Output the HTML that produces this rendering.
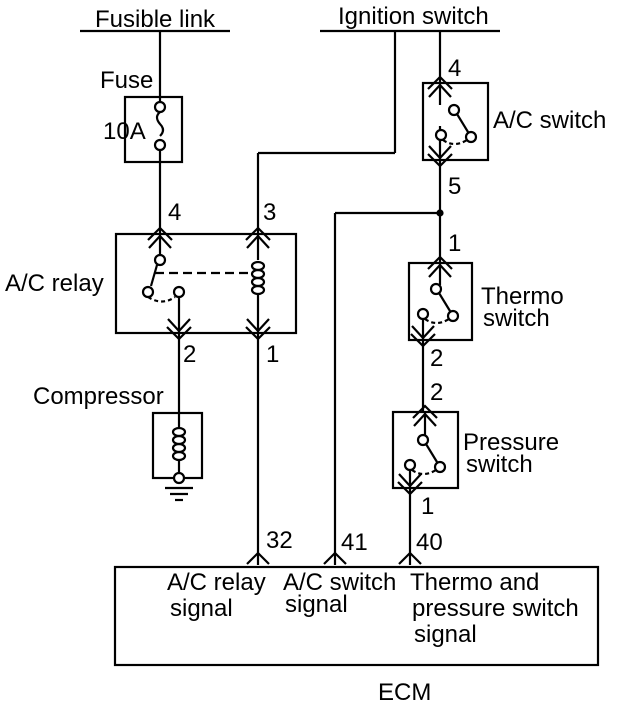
<!DOCTYPE html>
<html><head><style>
html,body{margin:0;padding:0;background:#fff;}
svg{display:block;}
text{font-family:"Liberation Sans",Arial,sans-serif;font-size:24px;fill:#000;}
</style></head><body>
<svg width="624" height="706" viewBox="0 0 624 706" xmlns="http://www.w3.org/2000/svg">
<defs>
<g id="up" fill="none" stroke="#000" stroke-width="2.2">
<path d="M-12,6 L0,-6 L12,6"/><path d="M-11,14 L0,2 L11,14"/>
</g>
<g id="dn" fill="none" stroke="#000" stroke-width="2.2">
<path d="M-12,-6 L0,6 L12,-6"/><path d="M-11,-14 L0,-2 L11,-14"/>
</g>
<g id="sw" fill="none" stroke="#000" stroke-width="2.2">
<circle cx="0" cy="0" r="5" fill="#fff"/>
<line x1="3" y1="4" x2="14" y2="22"/>
<circle cx="17" cy="27" r="5" fill="#fff"/>
<circle cx="-13" cy="25" r="5" fill="#fff"/>
<path d="M-11,30 Q0,38 13,30" stroke-dasharray="4,3"/>
</g>
</defs>
<g fill="none" stroke="#000" stroke-width="2.2">
<line x1="80" y1="31" x2="230" y2="31"/>
<line x1="320" y1="31" x2="500" y2="31"/>
<line x1="160" y1="31" x2="160" y2="102"/>
<rect x="125" y="97" width="57" height="65"/>
<circle cx="160" cy="107" r="5" fill="#fff"/>
<path d="M160,112 q-6,5 0,12 q6,6 0,12" />
<circle cx="160" cy="145" r="5" fill="#fff"/>
<line x1="160" y1="150" x2="160" y2="234"/>
<rect x="116" y="234" width="180" height="99"/>
<line x1="258" y1="234" x2="258" y2="153"/>
<line x1="258" y1="153" x2="395" y2="153"/>
<line x1="395" y1="153" x2="395" y2="31"/>
<line x1="160" y1="234" x2="160" y2="255"/>
<circle cx="160" cy="260" r="5" fill="#fff"/>
<line x1="157" y1="265" x2="151" y2="286"/>
<circle cx="148" cy="292" r="5" fill="#fff"/>
<circle cx="179" cy="292" r="5" fill="#fff"/>
<path d="M148,297 Q162,306 175,297" stroke-dasharray="4,3"/>
<line x1="155" y1="273" x2="250" y2="273" stroke-dasharray="9,5"/>
<line x1="258" y1="234" x2="258" y2="260"/>
<ellipse cx="258" cy="266" rx="6" ry="4"/>
<ellipse cx="258" cy="274" rx="6" ry="4"/>
<ellipse cx="258" cy="282" rx="6" ry="4"/>
<ellipse cx="258" cy="290" rx="6" ry="4"/>
<line x1="258" y1="294" x2="258" y2="565"/>
<line x1="179" y1="297" x2="179" y2="413"/>
<rect x="153" y="413" width="49" height="65"/>
<line x1="179" y1="413" x2="179" y2="427"/>
<ellipse cx="179" cy="432" rx="6" ry="4"/>
<ellipse cx="179" cy="440" rx="6" ry="4"/>
<ellipse cx="179" cy="448" rx="6" ry="4"/>
<ellipse cx="179" cy="456" rx="6" ry="4"/>
<line x1="179" y1="460" x2="179" y2="473"/>
<circle cx="179" cy="478" r="5" fill="#fff"/>
<line x1="165" y1="488" x2="193" y2="488"/>
<line x1="170" y1="494" x2="188" y2="494"/>
<line x1="175" y1="500" x2="183" y2="500"/>
<line x1="440" y1="31" x2="440" y2="105"/>
<rect x="423" y="83" width="65" height="77"/>
<line x1="440" y1="126" x2="440" y2="263"/>
<circle cx="440" cy="213" r="2.5" fill="#000"/>
<line x1="335" y1="213" x2="440" y2="213"/>
<line x1="335" y1="213" x2="335" y2="565"/>
<rect x="409" y="263" width="63" height="77"/>
<line x1="440" y1="263" x2="440" y2="285"/>
<line x1="423" y1="318" x2="423" y2="412"/>
<rect x="393" y="412" width="65" height="76"/>
<line x1="425" y1="412" x2="425" y2="435"/>
<line x1="410" y1="466" x2="410" y2="565"/>
<rect x="115" y="567" width="483" height="98"/>
<path d="M247,564 L258,553 L269,564"/>
<path d="M324,564 L335,553 L346,564"/>
<path d="M399,564 L410,553 L421,564"/>
</g>
<use href="#up" x="160" y="234"/>
<use href="#up" x="258" y="234"/>
<use href="#dn" x="179" y="333"/>
<use href="#dn" x="258" y="333"/>
<use href="#up" x="440" y="83"/>
<use href="#dn" x="440" y="160"/>
<use href="#up" x="440" y="263"/>
<use href="#dn" x="423" y="340"/>
<use href="#up" x="425" y="412"/>
<use href="#dn" x="410" y="488"/>
<use href="#sw" x="454" y="110"/>
<use href="#sw" x="436" y="289"/>
<use href="#sw" x="423" y="440"/>
<text x="95" y="27">Fusible link</text>
<text x="338" y="24">Ignition switch</text>
<text x="100" y="88">Fuse</text>
<text x="103" y="139">10A</text>
<text x="168" y="220">4</text>
<text x="263" y="220">3</text>
<text x="5" y="291">A/C relay</text>
<text x="183" y="362">2</text>
<text x="266" y="362">1</text>
<text x="33" y="404">Compressor</text>
<text x="448" y="76">4</text>
<text x="493" y="128">A/C switch</text>
<text x="448" y="194">5</text>
<text x="448" y="251">1</text>
<text x="481" y="304">Thermo</text>
<text x="483" y="326">switch</text>
<text x="430" y="366">2</text>
<text x="430" y="400">2</text>
<text x="463" y="450">Pressure</text>
<text x="466" y="472">switch</text>
<text x="421" y="514">1</text>
<text x="266" y="548">32</text>
<text x="341" y="550">41</text>
<text x="416" y="550">40</text>
<text x="167" y="590">A/C relay</text>
<text x="170" y="616">signal</text>
<text x="283" y="590">A/C switch</text>
<text x="285" y="612">signal</text>
<text x="410" y="590">Thermo and</text>
<text x="412" y="616">pressure switch</text>
<text x="414" y="642">signal</text>
<text x="378" y="700">ECM</text>
</svg>
</body></html>
